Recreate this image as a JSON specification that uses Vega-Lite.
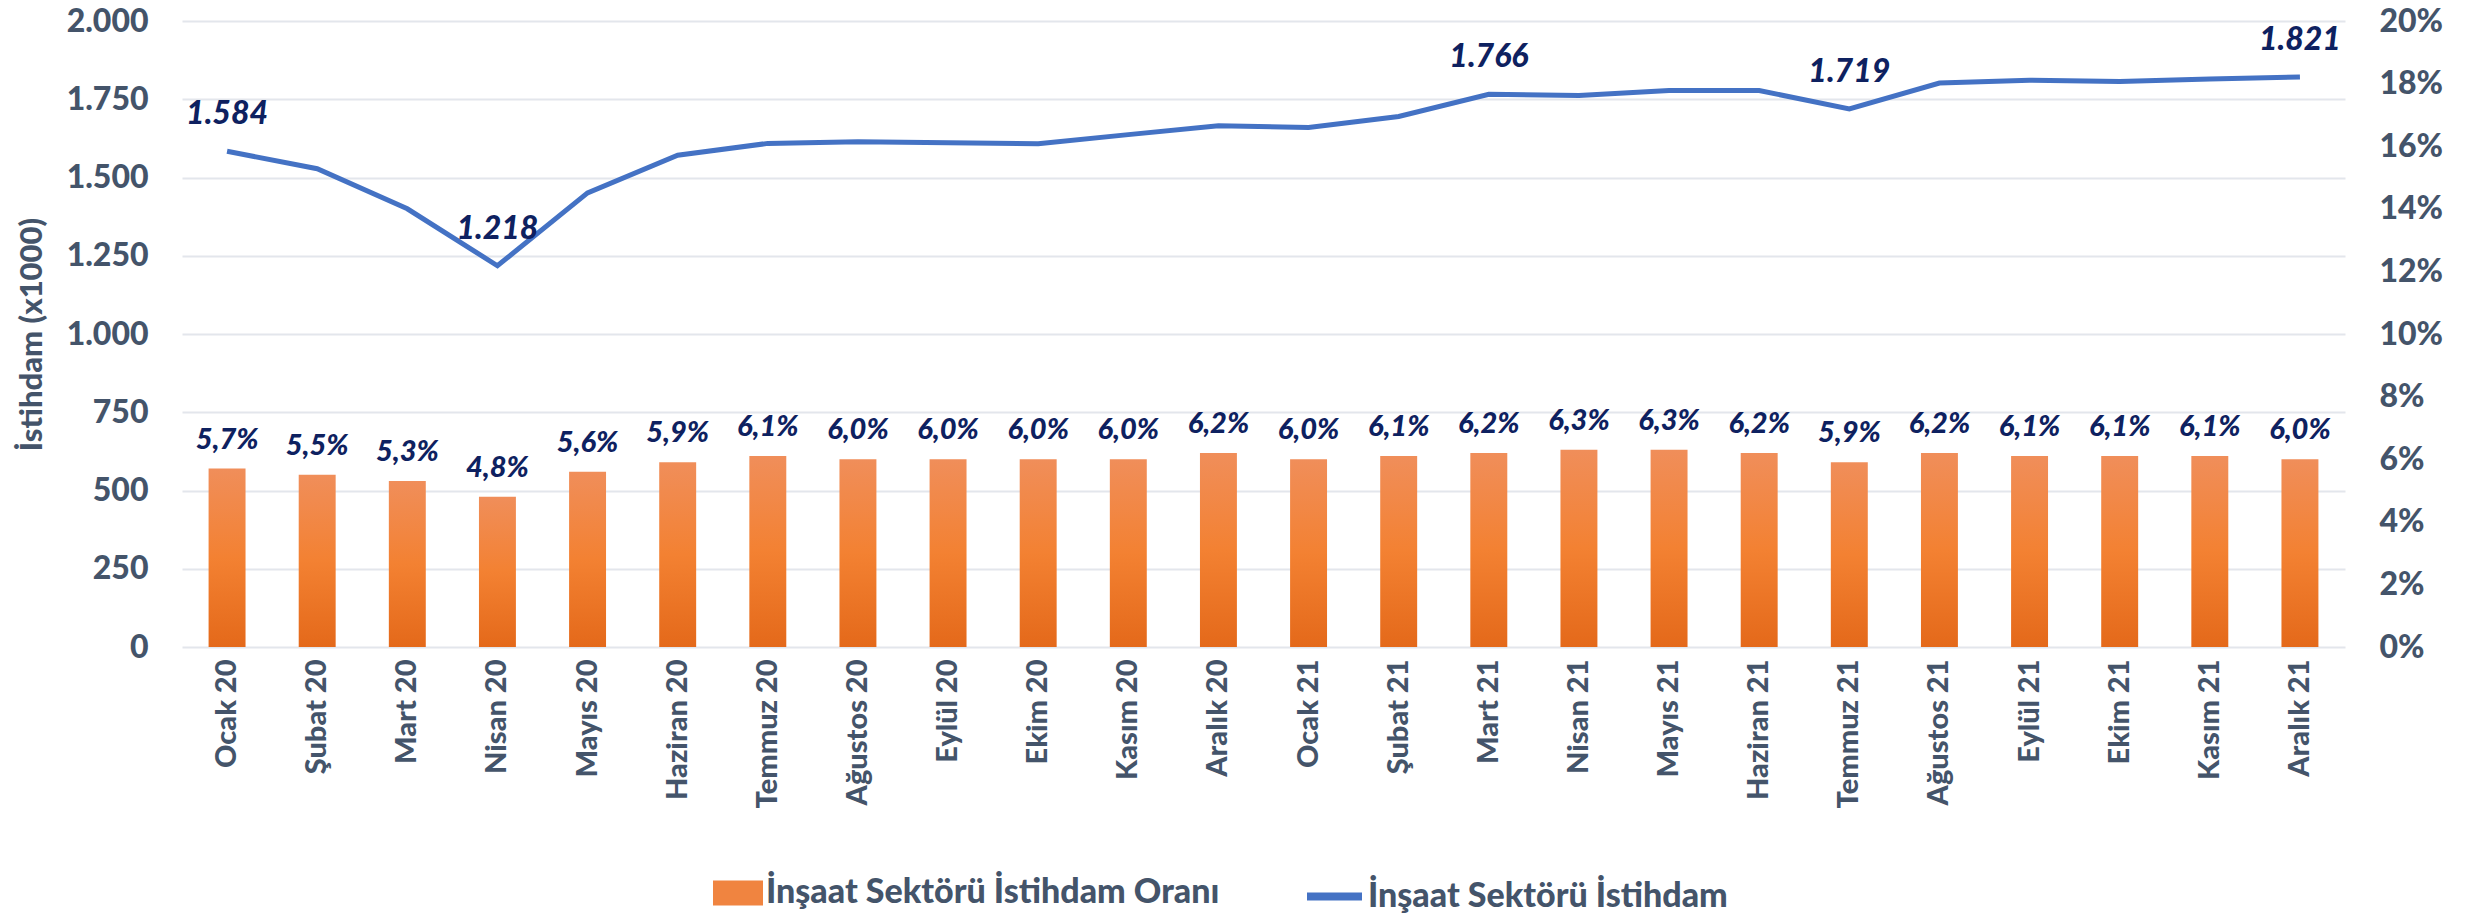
{
  "$schema": "https://vega.github.io/schema/vega-lite/v6.json",
  "width": 2163,
  "height": 626,
  "autosize": {"type": "none"},
  "padding": {"left": 182, "top": 21, "right": 125, "bottom": 271},
  "background": "white",
  "config": {
    "locale": {"number": {"decimal": ",", "thousands": ".", "grouping": [3], "currency": ["", " TL"]}},
    "view": {"stroke": null},
    "font": "Lato",
    "axis": {"labelFont": "Lato", "labelFontWeight": 900, "labelColor": "#44546A", "titleFont": "Lato", "titleColor": "#44546A", "domain": false, "ticks": false, "gridColor": "#E3E6EC", "gridWidth": 2},
    "legend": {"labelFont": "Lato", "labelFontWeight": 900, "labelColor": "#44546A", "labelFontSize": 34, "labelLimit": 0}
  },
  "data": {"values": [
    {"ay": "Ocak 20", "istihdam": 1584, "oran": 0.057},
    {"ay": "Şubat 20", "istihdam": 1528, "oran": 0.055},
    {"ay": "Mart 20", "istihdam": 1400, "oran": 0.053},
    {"ay": "Nisan 20", "istihdam": 1218, "oran": 0.048},
    {"ay": "Mayıs 20", "istihdam": 1451, "oran": 0.056},
    {"ay": "Haziran 20", "istihdam": 1571, "oran": 0.059},
    {"ay": "Temmuz 20", "istihdam": 1609, "oran": 0.061},
    {"ay": "Ağustos 20", "istihdam": 1614, "oran": 0.060},
    {"ay": "Eylül 20", "istihdam": 1611, "oran": 0.060},
    {"ay": "Ekim 20", "istihdam": 1608, "oran": 0.060},
    {"ay": "Kasım 20", "istihdam": 1637, "oran": 0.060},
    {"ay": "Aralık 20", "istihdam": 1665, "oran": 0.062},
    {"ay": "Ocak 21", "istihdam": 1660, "oran": 0.060},
    {"ay": "Şubat 21", "istihdam": 1695, "oran": 0.061},
    {"ay": "Mart 21", "istihdam": 1766, "oran": 0.062},
    {"ay": "Nisan 21", "istihdam": 1762, "oran": 0.063},
    {"ay": "Mayıs 21", "istihdam": 1778, "oran": 0.063},
    {"ay": "Haziran 21", "istihdam": 1778, "oran": 0.062},
    {"ay": "Temmuz 21", "istihdam": 1719, "oran": 0.059},
    {"ay": "Ağustos 21", "istihdam": 1802, "oran": 0.062},
    {"ay": "Eylül 21", "istihdam": 1811, "oran": 0.061},
    {"ay": "Ekim 21", "istihdam": 1807, "oran": 0.061},
    {"ay": "Kasım 21", "istihdam": 1815, "oran": 0.061},
    {"ay": "Aralık 21", "istihdam": 1821, "oran": 0.060}
  ]},
  "encoding": {
    "x": {
      "field": "ay", "type": "nominal", "sort": null,
      "scale": {"paddingInner": 0.59, "paddingOuter": 0.295},
      "axis": {"title": null, "labelAngle": -90, "labelAlign": "right", "labelBaseline": "middle", "labelFontSize": 29, "labelPadding": 12, "grid": false}
    }
  },
  "layer": [
    {
      "mark": {"type": "bar", "fill": {"gradient": "linear", "x1": 0, "y1": 0, "x2": 0, "y2": 1, "stops": [{"offset": 0, "color": "#F08E5A"}, {"offset": 0.5, "color": "#F38132"}, {"offset": 1, "color": "#E4691A"}]}},
      "encoding": {
        "y": {"field": "oran", "type": "quantitative", "scale": {"domain": [0, 0.2]},
          "axis": {"orient": "right", "format": ".0%", "values": [0, 0.02, 0.04, 0.06, 0.08, 0.1, 0.12, 0.14, 0.16, 0.18, 0.2], "labelFontSize": 32, "labelPadding": 34, "grid": false, "title": null}}
      }
    },
    {
      "data": {"values": []},
      "mark": {"type": "square"},
      "encoding": {
        "fill": {"datum": "İnşaat Sektörü İstihdam Oranı", "type": "nominal", "scale": {"range": ["#F08440"]},
          "legend": {"title": null, "orient": "none", "legendX": 531, "legendY": 847, "symbolType": "M-1,-0.5H1V0.5H-1Z", "symbolSize": 2500, "symbolStrokeWidth": 0, "symbolOpacity": 1, "labelOffset": 3}}
      }
    },
    {
      "mark": {"type": "text", "baseline": "bottom", "dy": -14, "fontSize": 29, "fontWeight": 900, "fontStyle": "italic", "color": "#0E2160"},
      "encoding": {
        "y": {"field": "oran", "type": "quantitative", "scale": {"domain": [0, 0.2]}, "axis": null},
        "text": {"field": "oran", "type": "quantitative", "format": ".1%"}
      }
    },
    {
      "mark": {"type": "line", "color": "#4472C4", "strokeWidth": 5},
      "encoding": {
        "y": {"field": "istihdam", "type": "quantitative", "scale": {"domain": [0, 2000]},
          "axis": {"orient": "left", "format": ",.0f", "values": [0, 250, 500, 750, 1000, 1250, 1500, 1750, 2000], "labelFontSize": 32, "labelPadding": 34, "grid": true, "title": "İstihdam (x1000)", "titleFontSize": 31, "titleFontWeight": 900, "titlePadding": 18}},
        "stroke": {"datum": "İnşaat Sektörü İstihdam", "type": "nominal", "scale": {"range": ["#4472C4"]},
          "legend": {"title": null, "orient": "none", "legendX": 1121, "legendY": 844, "symbolType": "stroke", "symbolSize": 3025, "symbolStrokeWidth": 8, "labelOffset": 2}}
      }
    },
    {
      "transform": [{"filter": {"field": "ay", "oneOf": ["Ocak 20", "Nisan 20", "Mart 21", "Temmuz 21", "Aralık 21"]}}],
      "mark": {"type": "text", "baseline": "bottom", "dy": -20, "fontSize": 32, "fontWeight": 900, "fontStyle": "italic", "color": "#0E2160"},
      "encoding": {
        "y": {"field": "istihdam", "type": "quantitative", "scale": {"domain": [0, 2000]}, "axis": null},
        "text": {"field": "istihdam", "type": "quantitative", "format": ",.0f"}
      }
    }
  ],
  "resolve": {"scale": {"y": "independent", "fill": "independent", "stroke": "independent"}}
}
